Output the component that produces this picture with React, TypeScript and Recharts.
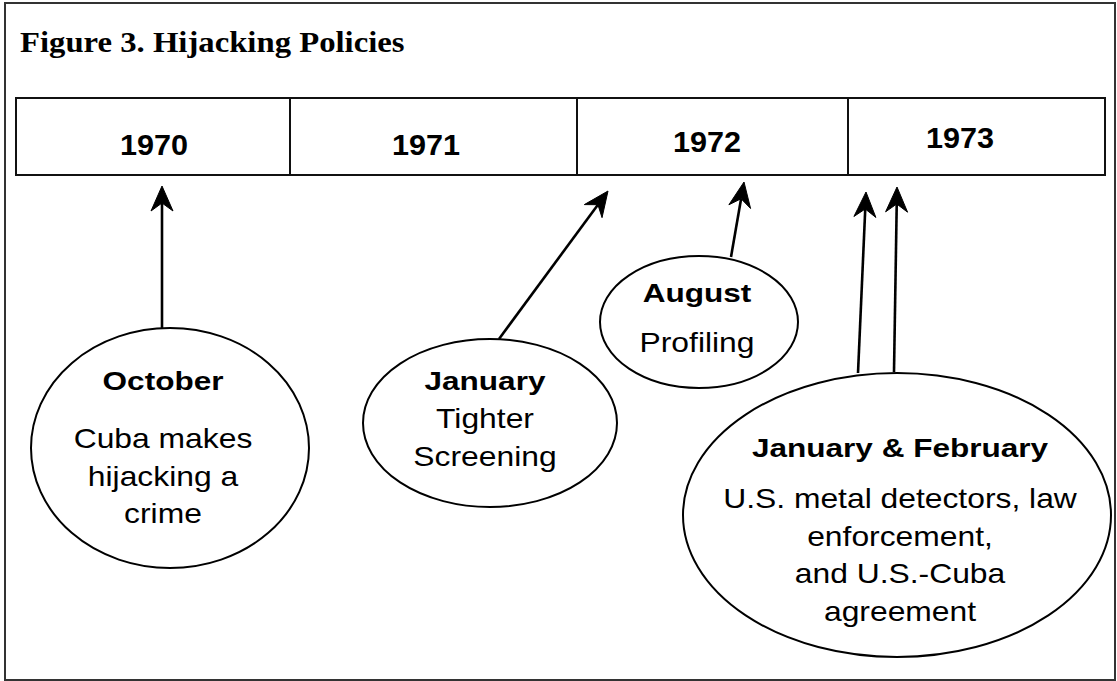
import React from 'react';
import { ComposedChart, XAxis, YAxis, Scatter, ReferenceArea, ReferenceLine } from 'recharts';

// diagram units are pixels: x 0..1200, y 0..800 (top-down), clipped to 1117x681
const years = ['1970', '1971', '1972', '1973'];
const yearEdges = [16, 290, 577, 848, 1105];
const yearLabelX = [154, 426, 707, 960];
const yearLabelY = [155, 155, 152, 148];

const eventMonths = ['October', 'January', 'August', 'January & February'];
const eventText = [
  ['Cuba makes', 'hijacking a', 'crime'],
  ['Tighter', 'Screening'],
  ['Profiling'],
  ['U.S. metal detectors, law', 'enforcement,', 'and U.S.-Cuba', 'agreement'],
];

// bubble layout
const bubbleX = [170, 490, 699, 897];
const bubbleY = [448, 423, 322, 515];
const bubbleRx = [139, 127, 99, 214];
const bubbleRy = [120, 84, 66, 142];
const textDx = [-7, -5, -2, 3];
const titleDy = [-58, -33, -20, -58];
const bodyDy = [0, 5, 30, -7];
const LINE_H = 37.5;

// arrows: [fromX, fromY, toX, toY]
const arrows = [
  [162, 330, 162, 186],
  [499, 339, 608, 191],
  [731, 257, 744, 182],
  [858, 373, 866, 192],
  [894, 372, 897, 187],
];

const BOX_TOP = 98;
const BOX_BOTTOM = 175;

const yearData = years.map((label, i) => ({ x: yearLabelX[i], y: yearLabelY[i], label }));
const eventData = eventMonths.map((month, i) => ({
  x: bubbleX[i],
  y: bubbleY[i],
  month,
  lines: eventText[i],
  rx: bubbleRx[i],
  ry: bubbleRy[i],
  dx: textDx[i],
  titleDy: titleDy[i],
  bodyDy: bodyDy[i],
}));

const SANS = '"Liberation Sans", Arial, sans-serif';

const Stretch = ({ x, y, sx, children, ...rest }: any) => (
  <text transform={`translate(${x},${y}) scale(${sx},1)`} textAnchor="middle" fill="#000" fontFamily={SANS} {...rest}>
    {children}
  </text>
);

const YearLabel = (props: any) => {
  const { cx, cy, payload } = props;
  return (
    <Stretch x={cx} y={cy} sx={1.02} fontSize={30} fontWeight="bold">
      {payload.label}
    </Stretch>
  );
};

const Bubble = (props: any) => {
  const { cx, cy, payload } = props;
  const tx = cx + payload.dx;
  return (
    <g>
      <ellipse cx={cx} cy={cy} rx={payload.rx} ry={payload.ry} fill="#fff" stroke="#000" strokeWidth={2} />
      <Stretch x={tx} y={cy + payload.titleDy} sx={1.19} fontSize={26.5} fontWeight="bold">
        {payload.month}
      </Stretch>
      {payload.lines.map((line: string, i: number) => (
        <Stretch key={i} x={tx} y={cy + payload.bodyDy + i * LINE_H} sx={1.17} fontSize={27.2}>
          {line}
        </Stretch>
      ))}
    </g>
  );
};

const Arrow = (props: any) => {
  const { x1, y1, x2, y2 } = props;
  const dx = x2 - x1;
  const dy = y2 - y1;
  const len = Math.sqrt(dx * dx + dy * dy);
  const ux = dx / len;
  const uy = dy / len;
  const px = -uy;
  const py = ux;
  const L = 25;
  const W = 11;
  const notch = 17;
  const bx = x2 - ux * L;
  const by = y2 - uy * L;
  const nx = x2 - ux * notch;
  const ny = y2 - uy * notch;
  const head = [
    [x2, y2],
    [bx + px * W, by + py * W],
    [nx, ny],
    [bx - px * W, by - py * W],
  ]
    .map((p) => p.join(','))
    .join(' ');
  return (
    <g>
      <line x1={x1} y1={y1} x2={nx} y2={ny} stroke="#000" strokeWidth={2.6} />
      <polygon points={head} fill="#000" stroke="#000" strokeWidth={1} strokeLinejoin="miter" />
    </g>
  );
};

export default function App() {
  return (
    <div style={{ position: 'absolute', left: 0, top: 0, width: 1117, height: 681, overflow: 'hidden', background: '#fff' }}>
      <ComposedChart width={1200} height={800} margin={{ top: 0, right: 0, bottom: 0, left: 0 }}>
        <XAxis type="number" dataKey="x" domain={[0, 1200]} hide />
        <YAxis type="number" dataKey="y" domain={[0, 800]} reversed hide />
        {years.map((y, i) => (
          <ReferenceArea
            key={y}
            x1={yearEdges[i]}
            x2={yearEdges[i + 1]}
            y1={BOX_TOP}
            y2={BOX_BOTTOM}
            fill="#fff"
            fillOpacity={1}
            stroke="#111"
            strokeWidth={2}
            ifOverflow="visible"
          />
        ))}
        <Scatter data={yearData} dataKey="y" shape={YearLabel} isAnimationActive={false} />
        {arrows.map((a, i) => (
          <ReferenceLine
            key={i}
            segment={[{ x: a[0], y: a[1] }, { x: a[2], y: a[3] }]}
            shape={Arrow}
            ifOverflow="visible"
          />
        ))}
        <Scatter data={eventData} dataKey="y" shape={Bubble} isAnimationActive={false} />
      </ComposedChart>
      <div
        style={{
          position: 'absolute',
          left: 20,
          top: 27,
          fontFamily: '"Liberation Serif", "Times New Roman", serif',
          fontWeight: 'bold',
          fontSize: 30,
          lineHeight: '30px',
          whiteSpace: 'nowrap',
          transform: 'scaleX(1.09)',
          transformOrigin: 'left top',
          color: '#000',
        }}
      >
        Figure 3. Hijacking Policies
      </div>
      <div
        style={{
          position: 'absolute',
          left: 4,
          top: 2,
          width: 1112,
          height: 679,
          border: '2px solid #333',
          boxSizing: 'border-box',
          pointerEvents: 'none',
        }}
      />
    </div>
  );
}
